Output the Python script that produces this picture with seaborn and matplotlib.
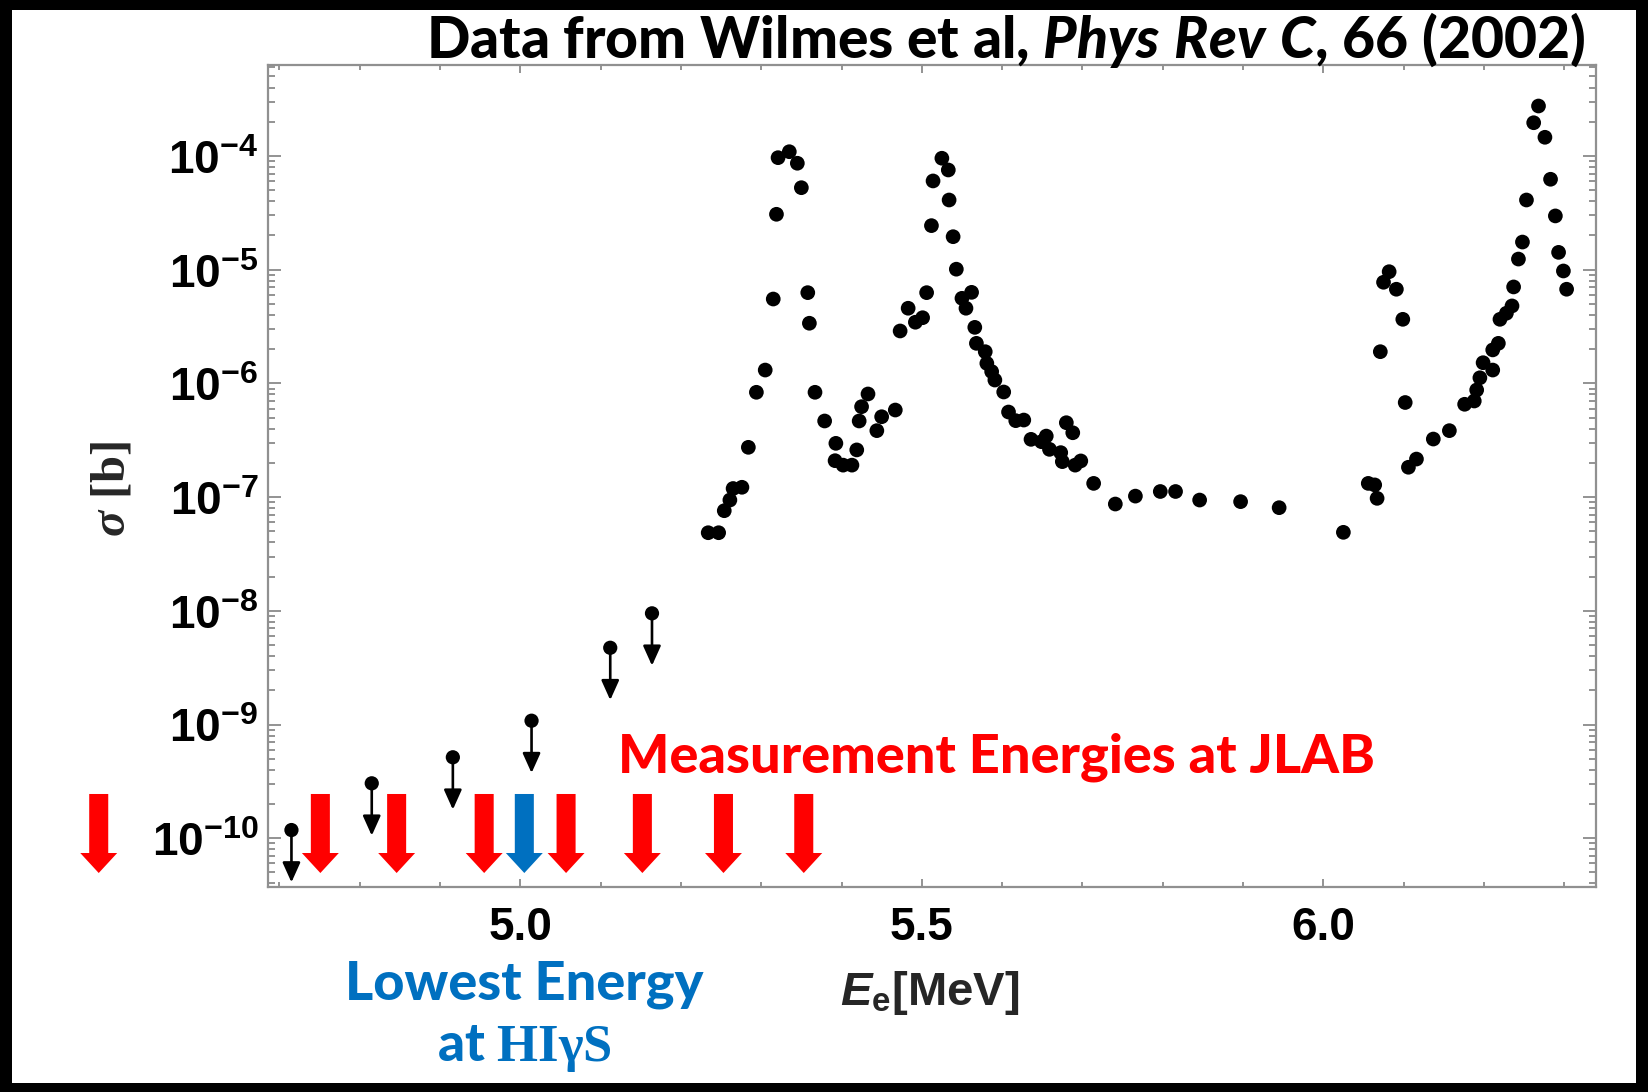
import numpy as np
import pandas as pd
import matplotlib
matplotlib.use("Agg")
import matplotlib.pyplot as plt
import seaborn as sns
from matplotlib.patches import Rectangle
from matplotlib.ticker import (LogLocator, MultipleLocator, FixedLocator,
                               NullFormatter, FuncFormatter)
import matplotlib.transforms as mtransforms

# ---------------- data ----------------
energy = [
    5.234, 5.247, 5.254, 5.261, 5.265, 5.276, 5.284, 5.294, 5.305, 5.315,
    5.319, 5.321, 5.335, 5.345, 5.350, 5.358, 5.360, 5.367, 5.379, 5.393,
    5.392, 5.402, 5.413, 5.419, 5.422, 5.425, 5.433, 5.444, 5.450, 5.467,
    5.473, 5.483, 5.492, 5.501, 5.506, 5.512, 5.514, 5.525, 5.533, 5.534,
    5.539, 5.543, 5.550, 5.562, 5.555, 5.566, 5.568, 5.579, 5.581, 5.587,
    5.591, 5.602, 5.608, 5.617, 5.627, 5.636, 5.649, 5.655, 5.659, 5.673,
    5.675, 5.680, 5.688, 5.691, 5.698, 5.714, 5.741, 5.766, 5.797, 5.816,
    5.846, 5.897, 5.945, 6.025, 6.056, 6.064, 6.067, 6.071, 6.075, 6.082,
    6.091, 6.099, 6.102, 6.106, 6.116, 6.137, 6.157, 6.176, 6.188, 6.191,
    6.195, 6.199, 6.211, 6.211, 6.218, 6.220, 6.228, 6.235, 6.237, 6.243,
    6.248, 6.253, 6.262, 6.268, 6.276, 6.283, 6.289, 6.293, 6.299, 6.303,
]
sigma = [
    4.86e-8, 4.86e-8, 7.59e-8, 9.42e-8, 1.19e-7, 1.22e-7, 2.74e-7, 8.35e-7, 1.31e-6, 5.52e-6,
    3.07e-5, 9.66e-5, 1.09e-4, 8.63e-5, 5.26e-5, 6.28e-6, 3.38e-6, 8.35e-7, 4.67e-7, 2.97e-7,
    2.09e-7, 1.91e-7, 1.91e-7, 2.60e-7, 4.67e-7, 6.24e-7, 8.07e-7, 3.84e-7, 5.09e-7, 5.83e-7,
    2.89e-6, 4.58e-6, 3.45e-6, 3.78e-6, 6.28e-6, 2.44e-5, 6.03e-5, 9.55e-5, 7.53e-5, 4.10e-5,
    1.95e-5, 1.01e-5, 5.60e-6, 6.32e-6, 4.58e-6, 3.11e-6, 2.25e-6, 1.90e-6, 1.50e-6, 1.27e-6,
    1.07e-6, 8.40e-7, 5.60e-7, 4.70e-7, 4.76e-7, 3.22e-7, 3.07e-7, 3.44e-7, 2.63e-7, 2.46e-7,
    2.05e-7, 4.51e-7, 3.68e-7, 1.91e-7, 2.08e-7, 1.32e-7, 8.69e-8, 1.02e-7, 1.12e-7, 1.12e-7,
    9.42e-8, 9.12e-8, 8.07e-8, 4.90e-8, 1.32e-7, 1.28e-7, 9.75e-8, 1.90e-6, 7.75e-6, 9.60e-6,
    6.73e-6, 3.66e-6, 6.79e-7, 1.83e-7, 2.16e-7, 3.24e-7, 3.84e-7, 6.55e-7, 7.00e-7, 8.75e-7,
    1.12e-6, 1.52e-6, 1.31e-6, 1.97e-6, 2.25e-6, 3.66e-6, 4.14e-6, 4.80e-6, 7.05e-6, 1.24e-5,
    1.75e-5, 4.10e-5, 1.96e-4, 2.75e-4, 1.46e-4, 6.24e-5, 2.97e-5, 1.42e-5, 9.74e-6, 6.73e-6,
]

# upper limits
limit_energy = [4.715, 4.815, 4.916, 5.014, 5.112, 5.164]
limit_sigma = [1.18e-10, 3.04e-10, 5.15e-10, 1.08e-9, 4.73e-9, 9.5e-9]

# measurement energies (big arrows)
jlab_energy = [4.475, 4.751, 4.846, 4.955, 5.057, 5.152, 5.253, 5.353]
higs_energy = [5.005]

xtick_major = [5.0, 5.5, 6.0]
xtick_labels = ["5.0", "5.5", "6.0"]

title_plain = "Data from Wilmes et al, "
title_italic = "Phys Rev C"
title_end = ", 66 (2002)"
jlab_label = "Measurement Energies at JLAB"
higs_label_1 = "Lowest Energy"
higs_label_2 = "HIγS"

RED = "#FF0000"
BLUE = "#0070C0"

# ---------------- style ----------------
sns.set_style("ticks")
plt.rcParams["font.family"] = ["Lato", "DejaVu Sans"]
plt.rcParams["mathtext.fontset"] = "custom"
plt.rcParams["mathtext.rm"] = "Liberation Sans:bold"
plt.rcParams["mathtext.bf"] = "Liberation Sans:italic:bold"
plt.rcParams["mathtext.it"] = "Liberation Serif:italic:bold"
plt.rcParams["mathtext.sf"] = "Lato:italic:black"
plt.rcParams["mathtext.tt"] = "Liberation Serif:bold"

W, H = 1648, 1092
fig = plt.figure(figsize=(W / 100, H / 100), dpi=100, facecolor="black")
fig.add_artist(Rectangle((12 / W, 1 - 1083 / H), (1636 - 12) / W, (1083 - 10) / H,
                         transform=fig.transFigure, facecolor="white",
                         edgecolor="none", zorder=-5))

ax = fig.add_axes([268 / W, 1 - 887 / H, (1596 - 268) / W, (887 - 65) / H])
ax.set_facecolor("white")

df = pd.DataFrame({"E": energy, "sigma": sigma})
dl = pd.DataFrame({"E": limit_energy, "sigma": limit_sigma})

sns.scatterplot(data=df, x="E", y="sigma", ax=ax, color="black", s=112,
                edgecolor="none", linewidth=0, zorder=4, legend=False)
sns.scatterplot(data=dl, x="E", y="sigma", ax=ax, color="black", s=105,
                edgecolor="none", linewidth=0, zorder=4, legend=False)

ax.set_yscale("log")
xlim = (4.6858, 6.3396)
ylim = (10 ** -10.429, 10 ** -3.2)
ax.set_xlim(*xlim)
ax.set_ylim(*ylim)

# upper-limit arrows
arrow_dec = 0.46
for e, s in zip(limit_energy, limit_sigma):
    ax.annotate("", xy=(e, s * 10 ** -arrow_dec), xytext=(e, s),
                arrowprops=dict(arrowstyle="-|>,head_width=0.45,head_length=1.0",
                                color="black", lw=1.9, shrinkA=0, shrinkB=0,
                                mutation_scale=12),
                zorder=3, annotation_clip=False)

# big measurement arrows
top_l, neck_l, tip_l = -9.611, -10.13, -10.306
shaft_w, head_w = 0.0237, 0.046


def big_arrow(x, color):
    top, neck, tip = 10 ** top_l, 10 ** neck_l, 10 ** tip_l
    a = ax.arrow(x, top, 0, tip - top, width=shaft_w, head_width=head_w,
                 head_length=neck - tip, length_includes_head=True,
                 facecolor=color, edgecolor="none", zorder=5)
    a.set_clip_on(False)


for e in jlab_energy:
    big_arrow(e, RED)
for e in higs_energy:
    big_arrow(e, BLUE)

# ticks
ax.set_yscale("log")
ax.set_xlim(*xlim)
ax.set_ylim(*ylim)
ax.yaxis.set_major_locator(LogLocator(base=10, numticks=30))
ax.yaxis.set_major_formatter(FuncFormatter(
    lambda v, p: r"$\mathrm{10^{%d}}$" % int(round(np.log10(v)))))
ax.yaxis.set_minor_locator(LogLocator(base=10, subs=np.arange(2, 10), numticks=30))
ax.yaxis.set_minor_formatter(NullFormatter())
ax.xaxis.set_major_locator(FixedLocator(xtick_major))
ax.set_xticklabels(xtick_labels)
ax.xaxis.set_minor_locator(MultipleLocator(0.1))

tick_col = "#8a8a8a"
ax.tick_params(axis="both", which="both", direction="in", top=True, right=True,
               color=tick_col, width=1.3, labelcolor="black")
ax.tick_params(axis="y", which="major", length=9.5, pad=7, labelsize=33)
ax.tick_params(axis="y", which="minor", length=5)
ax.tick_params(axis="x", which="major", length=6, pad=14, labelsize=33)
ax.tick_params(axis="x", which="minor", length=3.5)
for lab in ax.get_xticklabels():
    lab.set_fontfamily("Liberation Sans")
    lab.set_fontweight("bold")
for sp in ax.spines.values():
    sp.set_color("#909090")
    sp.set_linewidth(1.6)

# axis labels
ax.set_xlabel(r"$\mathbf{E}_{\mathrm{e}}$[MeV]", fontsize=34,
              fontfamily="Liberation Sans", fontweight="bold")
ax.xaxis.set_label_coords(0.4985, -0.129)
ax.xaxis.label.set_va("center")
ax.set_ylabel(r"$\mathit{\sigma}$ [b]", fontsize=35,
              fontfamily="Liberation Serif", fontweight="bold")
ax.yaxis.set_label_coords(-0.117, 0.484)
ax.yaxis.label.set_va("center")

# annotations
ax.text(0.2636, 0.158, jlab_label, transform=ax.transAxes, color=RED,
        fontsize=39, fontweight="black", ha="left", va="center")

trans = mtransforms.blended_transform_factory(ax.transData, ax.transAxes)
ax.text(higs_energy[0], -0.119, higs_label_1, transform=trans, color=BLUE,
        fontsize=39, fontweight="black", ha="center", va="center", clip_on=False)
ax.text(higs_energy[0], -0.197, "at $\\mathtt{" + higs_label_2 + "}$", transform=trans,
        color=BLUE, fontsize=38, fontweight="black", ha="center", va="center",
        clip_on=False)

fig.text(1585 / W, 1 - 40 / H,
         title_plain + r"$\mathsf{" + title_italic.replace(" ", r"\ ") + "}$" + title_end,
         ha="right", va="center", fontsize=41, fontweight="black", color="black")

fig.savefig("out.png", dpi=100, facecolor="black")
